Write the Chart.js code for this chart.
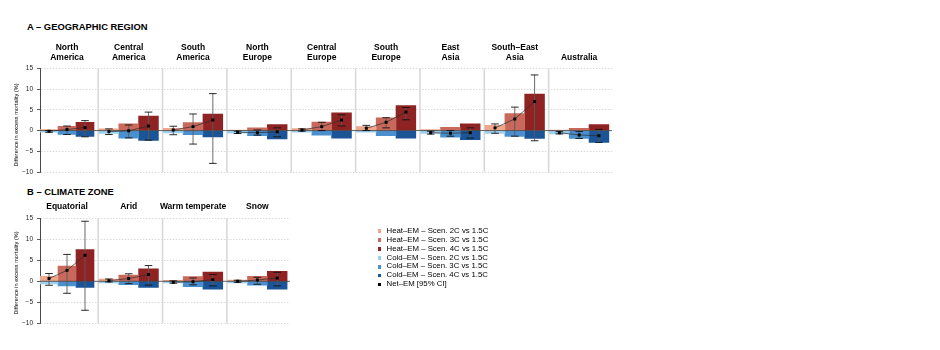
<!DOCTYPE html>
<html>
<head>
<meta charset="utf-8">
<script src="https://cdn.jsdelivr.net/npm/chart.js@4.4.1/dist/chart.umd.min.js"></script>
<style>
html,body{margin:0;padding:0;background:#fff;}
#wrap{position:relative;width:940px;height:350px;overflow:hidden;font-family:"Liberation Sans",Arial,Helvetica,sans-serif;color:#000;}
canvas{position:absolute;left:0;}
.ptitle{position:absolute;left:27px;font-weight:bold;font-size:9.4px;line-height:1;white-space:nowrap;}
.facet{position:absolute;font-weight:bold;font-size:8.5px;line-height:10px;text-align:center;white-space:nowrap;transform:translateX(-50%);}
.ytitle{position:absolute;font-size:5.6px;line-height:1;white-space:nowrap;transform:translate(-50%,-50%) rotate(-90deg);}
#legend{position:absolute;left:377.5px;top:226.8px;font-size:7.8px;line-height:8.9px;}
.li{position:relative;padding-left:9px;white-space:nowrap;}
.sw{position:absolute;left:0;top:2.5px;width:3.6px;height:3.6px;}
</style>
</head>
<body>
<div id="wrap">
  <div class="ptitle" id="titleA" style="top:22.3px"></div>
  <div class="ptitle" id="titleB" style="top:187.3px"></div>
  <canvas id="cA" width="940" height="180" style="top:0px"></canvas>
  <canvas id="cB" width="940" height="170" style="top:180px"></canvas>
  <div class="ytitle" id="ytA" style="left:17px;top:125px"></div>
  <div class="ytitle" id="ytB" style="left:17px;top:273px"></div>
  <div id="legend"></div>
</div>
<script>
// ---------------- DATA ----------------
const titleA = 'A – GEOGRAPHIC REGION';
const titleB = 'B – CLIMATE ZONE';
const yTitle = 'Difference in excess mortality (%)';

const regionsA = [['North','America'],['Central','America'],['South','America'],['North','Europe'],
                  ['Central','Europe'],['South','Europe'],['East','Asia'],['South–East','Asia'],['Australia']];
const zonesB = [['Equatorial'],['Arid'],['Warm temperate'],['Snow']];

const scenarios = ['2C','3C','4C'];
const yTicks = [-10,-5,0,5,10,15];
const yTickLabels = ['−10','−5','0','5','10','15'];

// Panel A – geographic regions (values in %)
const heatA_2C = [0.25, 0.4, 0.55, 0.15, 0.5, 0.95, 0.25, 1.25, 0.15];
const heatA_3C = [1.0, 1.65, 1.9, 0.65, 2.05, 3.1, 0.8, 4.1, 0.55];
const heatA_4C = [2.0, 3.5, 4.0, 1.45, 4.3, 6.0, 1.65, 8.8, 1.45];
const coldA_2C = [-0.4, -0.7, -0.55, -0.6, -0.4, -0.4, -0.7, -0.7, -0.8];
const coldA_3C = [-0.95, -1.8, -1.0, -1.2, -1.1, -1.25, -1.6, -1.4, -1.9];
const coldA_4C = [-1.4, -2.4, -1.5, -2.0, -1.8, -1.8, -2.2, -1.9, -2.85];
const netA_2C  = [-0.15, -0.25, 0.15, -0.4, 0.15, 0.55, -0.5, 0.65, -0.5];
const netA_3C  = [0.25, -0.05, 0.95, -0.5, 0.95, 2.0, -0.65, 2.8, -1.05];
const netA_4C  = [0.75, 1.1, 2.55, -0.3, 2.55, 4.45, -0.5, 7.0, -1.25];
const loA_2C   = [-0.4, -0.95, -1.0, -0.7, -0.15, 0.0, -0.85, -0.65, -0.8];
const hiA_2C   = [0.0, 0.4, 1.05, -0.15, 0.4, 1.25, -0.15, 1.6, -0.25];
const loA_3C   = [-0.95, -1.75, -3.25, -1.1, 0.0, 0.65, -1.35, -1.35, -1.9];
const hiA_3C   = [1.1, 1.35, 4.0, 0.15, 2.0, 3.1, 0.0, 5.65, -0.25];
const loA_4C   = [-1.5, -2.3, -7.9, -1.5, 1.1, 2.6, -1.8, -2.45, -2.85];
const hiA_4C   = [2.4, 4.45, 8.9, 0.65, 3.8, 5.55, 0.65, 13.4, 0.3];

// Panel B – climate zones
const heatB_2C = [1.2, 0.5, 0.25, 0.3];
const heatB_3C = [3.65, 1.5, 1.1, 1.2];
const heatB_4C = [7.55, 2.95, 2.2, 2.4];
const coldB_2C = [-0.65, -0.4, -0.4, -0.4];
const coldB_3C = [-1.1, -0.8, -1.25, -0.95];
const coldB_4C = [-1.45, -1.45, -1.9, -1.9];
const netB_2C  = [0.65, 0.15, -0.25, 0.0];
const netB_3C  = [2.6, 0.65, -0.1, 0.3];
const netB_4C  = [6.2, 1.6, 0.4, 0.8];
const loB_2C   = [-0.95, -0.15, -0.45, -0.25];
const hiB_2C   = [1.85, 0.55, 0.1, 0.25];
const loB_3C   = [-2.85, -0.55, -0.85, -0.7];
const hiB_3C   = [6.4, 1.8, 0.8, 0.95];
const loB_4C   = [-6.9, -0.9, -1.1, -1.1];
const hiB_4C   = [14.3, 3.75, 1.6, 2.15];

// ---------------- STYLE / GEOMETRY ----------------
const FONT = '"Liberation Sans", Arial, Helvetica, sans-serif';
const HEAT_COLORS = ['#f0a68a', '#c9695c', '#8f2323'];
const COLD_COLORS = ['#9bd0f0', '#4a90cf', '#1b5597'];
const NET_COLOR = '#000000';
const UNIT_PX = 19.8;      // bar width (px) in facets 2..n
const FIRST_PX = 18;       // bar width (px) in first facet
const FACET_STEP = 3.25;   // facet spacing, in bar widths
const FACET_SHIFT = -0.27;
const facetLeft = i => FACET_STEP * i + FACET_SHIFT;

const geomA = {canvasTop: 0, canvasH: 180, plotLeft: 40, plotRight: 612, plotTop: 68.3, plotBottom: 173.3, stripBottom: 61.5};
const geomB = {canvasTop: 180, canvasH: 170, plotLeft: 40, plotRight: 290, plotTop: 218.3, plotBottom: 323.3, stripBottom: 211};

const panelPlugin = {
  id: 'panelDecor',
  beforeDatasetsDraw(chart) {
    const {ctx, chartArea} = chart;
    const xs = chart.scales.x;
    const n = chart.options.plugins.panelDecor.nFacets;
    ctx.save();
    ctx.strokeStyle = '#d9d9d9';
    ctx.lineWidth = 1.6;
    for (let i = 1; i < n; i++) {
      const px = xs.getPixelForValue(facetLeft(i)) - 0.8;
      ctx.beginPath();
      ctx.moveTo(px, chartArea.top);
      ctx.lineTo(px, chartArea.bottom);
      ctx.stroke();
    }
    ctx.restore();
    chart.$zeroDone = false;
  },
  beforeDatasetDraw(chart, args) {
    if (args.meta.type !== 'line') return;
    const {ctx, chartArea} = chart;
    const ys = chart.scales.y;
    if (!chart.$zeroDone) {
      chart.$zeroDone = true;
      const y0 = ys.getPixelForValue(0);
      ctx.save();
      ctx.strokeStyle = '#3a3a3a';
      ctx.lineWidth = 0.8;
      ctx.beginPath();
      ctx.moveTo(chartArea.left, y0);
      ctx.lineTo(chartArea.right, y0);
      ctx.stroke();
      ctx.restore();
    }
    // error bars for this Net-EM series
    const ds = chart.data.datasets[args.index];
    ctx.save();
    args.meta.data.forEach((pt, k) => {
      const yl = ys.getPixelForValue(ds.errLo[k]);
      const yh = ys.getPixelForValue(ds.errHi[k]);
      ctx.strokeStyle = '#5a5a5a';
      ctx.lineWidth = 0.9;
      ctx.beginPath();
      ctx.moveTo(pt.x, yl); ctx.lineTo(pt.x, yh);
      ctx.stroke();
      ctx.strokeStyle = '#111';
      ctx.lineWidth = 0.9;
      ctx.beginPath();
      ctx.moveTo(pt.x - 3.8, yl); ctx.lineTo(pt.x + 3.8, yl);
      ctx.moveTo(pt.x - 3.8, yh); ctx.lineTo(pt.x + 3.8, yh);
      ctx.stroke();
    });
    ctx.restore();
  }
};

function buildPanel(canvasId, g, facets, heat, cold, net, lo, hi) {
  const plotW = g.plotRight - g.plotLeft;
  const n = facets.length;
  const cx = (i, j) => i === 0 ? j + 0.5 : facetLeft(i) + 0.5 + j;
  const barOpts = {type: 'bar', yAxisID: 'y', grouped: false, barPercentage: 1, categoryPercentage: 1,
                   borderWidth: 0, order: 10};
  const datasets = [];
  [[heat, HEAT_COLORS], [cold, COLD_COLORS]].forEach(([series, colors]) => {
    series.forEach((arr, s) => {
      datasets.push(Object.assign({}, barOpts, {xAxisID: 'x0', backgroundColor: colors[s],
        data: [{x: cx(0, s), y: arr[0]}]}));
      datasets.push(Object.assign({}, barOpts, {xAxisID: 'x', backgroundColor: colors[s],
        data: arr.slice(1).map((v, k) => ({x: cx(k + 1, s), y: v}))}));
    });
  });
  for (let i = 0; i < n; i++) {
    datasets.push({
      type: 'line', xAxisID: i === 0 ? 'x0' : 'x', yAxisID: 'y', order: 0,
      data: net.map((arr, s) => ({x: cx(i, s), y: arr[i]})),
      errLo: lo.map(a => a[i]), errHi: hi.map(a => a[i]),
      borderColor: '#2b2b2b', borderWidth: 0.7, tension: 0, fill: false,
      pointStyle: 'rect', pointRadius: 2.1, pointBackgroundColor: NET_COLOR, pointBorderWidth: 0
    });
  }
  const hiddenX = max => ({type: 'linear', display: false, min: 0, max: max, offset: false,
    afterBuildTicks: s => { s.ticks = [{value: s.min}]; }});
  const chart = new Chart(document.getElementById(canvasId), {
    type: 'bar',
    data: {datasets},
    plugins: [panelPlugin],
    options: {
      responsive: false, animation: false, events: [],
      layout: {padding: {left: 0, top: g.plotTop - g.canvasTop, right: 940 - g.plotRight,
                         bottom: g.canvasTop + g.canvasH - g.plotBottom}},
      plugins: {legend: {display: false}, tooltip: {enabled: false}, panelDecor: {nFacets: n}},
      scales: {
        x: hiddenX(plotW / UNIT_PX),
        x0: hiddenX(plotW / FIRST_PX),
        y: {
          type: 'linear', position: 'left', min: yTicks[0], max: yTicks[yTicks.length - 1],
          afterFit: s => { s.width = g.plotLeft; },
          afterBuildTicks: s => { s.ticks = yTicks.map(v => ({value: v})); },
          ticks: {font: {family: FONT, size: 6.5}, color: '#262626', padding: 4,
                  callback: v => yTickLabels[yTicks.indexOf(v)]},
          grid: {color: c => (c.tick && c.tick.value === 0) ? 'rgba(0,0,0,0)' : '#cfcfcf',
                 lineWidth: 0.8, tickLength: 3, tickColor: '#333', tickWidth: 0.8},
          border: {display: true, color: '#333', width: 0.9, dash: [1.5, 1.5]}
        }
      }
    }
  });
  // facet strip labels, centred on each facet's bars
  const wrap = document.getElementById('wrap');
  facets.forEach((lines, i) => {
    const px = i === 0 ? chart.scales.x0.getPixelForValue(1.5) : chart.scales.x.getPixelForValue(facetLeft(i) + 1.5);
    const d = document.createElement('div');
    d.className = 'facet';
    d.style.left = px + 'px';
    d.style.bottom = (350 - g.stripBottom) + 'px';
    d.innerHTML = lines.join('<br>');
    wrap.appendChild(d);
  });
  return chart;
}

document.getElementById('titleA').textContent = titleA;
document.getElementById('titleB').textContent = titleB;
document.getElementById('ytA').textContent = yTitle;
document.getElementById('ytB').textContent = yTitle;

buildPanel('cA', geomA, regionsA,
  [heatA_2C, heatA_3C, heatA_4C], [coldA_2C, coldA_3C, coldA_4C],
  [netA_2C, netA_3C, netA_4C], [loA_2C, loA_3C, loA_4C], [hiA_2C, hiA_3C, hiA_4C]);
buildPanel('cB', geomB, zonesB,
  [heatB_2C, heatB_3C, heatB_4C], [coldB_2C, coldB_3C, coldB_4C],
  [netB_2C, netB_3C, netB_4C], [loB_2C, loB_3C, loB_4C], [hiB_2C, hiB_3C, hiB_4C]);

// legend
const legendItems = [];
scenarios.forEach((s, k) => legendItems.push({label: 'Heat–EM – Scen. ' + s + ' vs 1.5C', color: HEAT_COLORS[k]}));
scenarios.forEach((s, k) => legendItems.push({label: 'Cold–EM – Scen. ' + s + ' vs 1.5C', color: COLD_COLORS[k]}));
legendItems.push({label: 'Net–EM [95% CI]', color: NET_COLOR});
const leg = document.getElementById('legend');
legendItems.forEach(it => {
  const row = document.createElement('div');
  row.className = 'li';
  row.innerHTML = '<span class="sw" style="background:' + it.color + '"></span>' + it.label;
  leg.appendChild(row);
});
</script>
</body>
</html>
